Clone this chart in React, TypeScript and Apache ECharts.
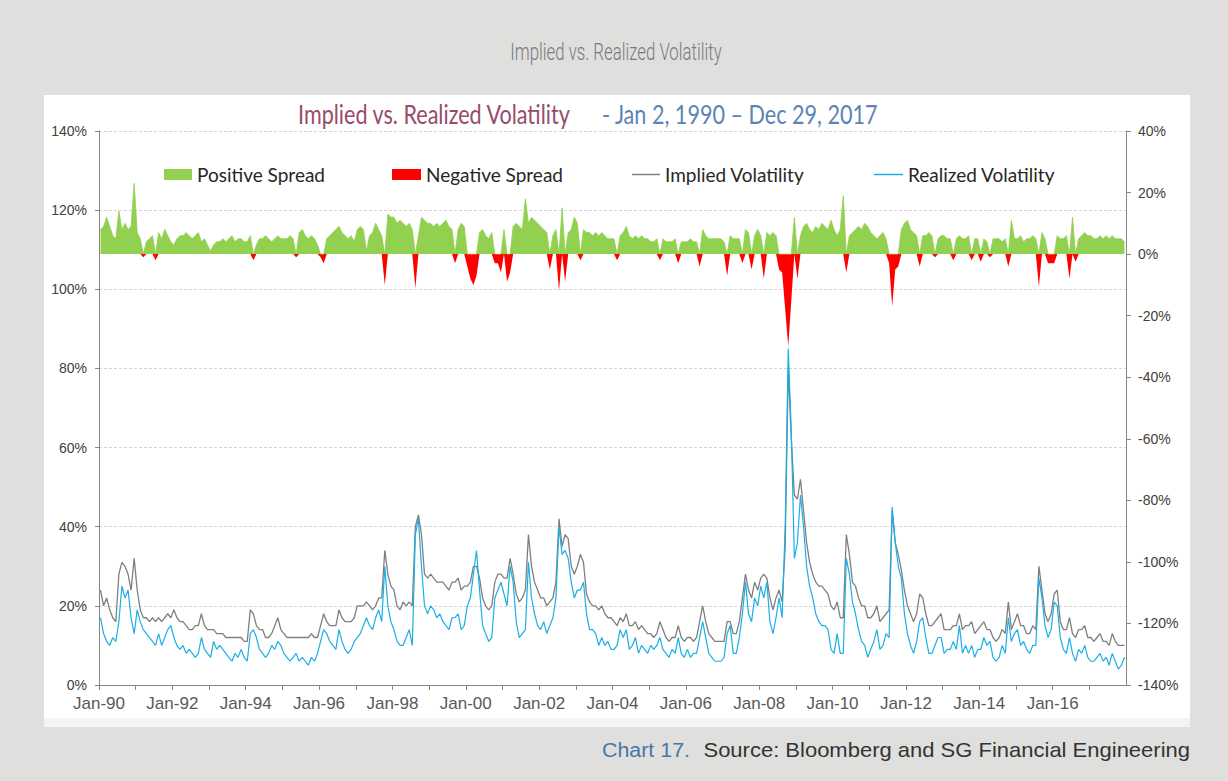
import React, { useEffect, useRef } from "react";
import * as echarts from "echarts";

// Monthly observations, Jan 1990 .. Dec 2017 (one row per year)
const START_YEAR = 1990;
const END_YEAR = 2018;

const impliedVol: number[] = [
  24, 20, 22, 19, 17, 16, 28, 31, 30, 28, 24, 32, // 1990
  24, 19, 17, 17, 16, 17, 16, 17, 16, 17, 18, 17, // 1991
  19, 17, 16, 16, 15, 14, 14, 15, 15, 18, 15, 14, // 1992
  14, 14, 13, 13, 13, 12, 12, 12, 12, 12, 12, 11, // 1993
  11, 19, 18, 15, 14, 14, 12, 12, 13, 15, 17, 14, // 1994
  13, 12, 12, 12, 12, 12, 12, 12, 12, 13, 12, 12, // 1995
  15, 18, 16, 15, 15, 15, 19, 17, 16, 16, 16, 17, // 1996
  20, 20, 20, 21, 20, 19, 20, 22, 22, 34, 28, 25, // 1997
  24, 20, 19, 21, 20, 21, 20, 40, 43, 38, 28, 27, // 1998
  28, 27, 26, 26, 26, 25, 24, 26, 26, 27, 24, 25, // 1999
  25, 26, 30, 30, 27, 22, 20, 19, 20, 26, 28, 28, // 2000
  27, 27, 32, 28, 23, 21, 22, 24, 38, 30, 26, 24, // 2001
  22, 22, 20, 21, 22, 26, 42, 35, 38, 37, 30, 28, // 2002
  30, 33, 31, 23, 21, 20, 20, 19, 20, 18, 17, 17, // 2003
  16, 15, 17, 16, 18, 15, 15, 16, 14, 15, 14, 13, // 2004
  13, 12, 13, 16, 14, 12, 11, 12, 12, 15, 12, 11, // 2005
  12, 12, 11, 12, 16, 20, 16, 13, 12, 11, 11, 11, // 2006
  11, 16, 16, 13, 13, 16, 22, 28, 24, 22, 26, 24, // 2007
  27, 28, 27, 22, 19, 22, 24, 21, 35, 80, 62, 48, // 2008
  47, 52, 44, 36, 31, 28, 26, 25, 25, 24, 23, 20, // 2009
  19, 21, 17, 17, 38, 33, 26, 25, 22, 20, 20, 17, // 2010
  17, 18, 20, 16, 17, 18, 19, 44, 36, 33, 29, 24, // 2011
  20, 18, 16, 18, 23, 22, 18, 15, 15, 16, 17, 18, // 2012
  14, 14, 14, 15, 15, 18, 14, 15, 15, 16, 13, 14, // 2013
  15, 16, 14, 14, 12, 11, 12, 14, 13, 21, 14, 16, // 2014
  18, 15, 15, 13, 13, 15, 14, 30, 24, 18, 16, 18, // 2015
  23, 24, 16, 14, 14, 17, 13, 12, 14, 14, 15, 12, // 2016
  12, 11, 12, 13, 11, 11, 10, 13, 11, 10, 10, 10, // 2017
];

const realizedVol: number[] = [
  17, 13, 11, 10, 12, 11, 16, 25, 22, 24, 17, 13, // 1990
  19, 16, 14, 13, 12, 11, 10, 13, 10, 12, 14, 15, // 1991
  12, 10, 9, 10, 8, 9, 8, 7, 8, 12, 9, 8, // 1992
  7, 11, 9, 10, 9, 8, 7, 6, 8, 7, 9, 7, // 1993
  6, 13, 14, 12, 9, 8, 7, 8, 10, 9, 11, 10, // 1994
  8, 7, 6, 7, 8, 6, 7, 6, 5, 7, 6, 8, // 1995
  11, 14, 13, 11, 10, 9, 14, 11, 9, 8, 9, 11, // 1996
  12, 13, 15, 17, 15, 14, 17, 19, 16, 30, 20, 16, // 1997
  14, 11, 10, 10, 12, 14, 10, 38, 42, 30, 20, 18, // 1998
  20, 19, 17, 18, 16, 15, 14, 17, 17, 18, 14, 15, // 1999
  20, 22, 28, 34, 24, 15, 13, 11, 12, 22, 24, 26, // 2000
  23, 20, 30, 26, 16, 12, 13, 14, 31, 22, 18, 15, // 2001
  14, 16, 13, 15, 17, 22, 40, 33, 34, 32, 26, 22, // 2002
  24, 24, 26, 18, 14, 14, 13, 10, 12, 10, 11, 9, // 2003
  9, 10, 14, 12, 14, 9, 10, 12, 8, 10, 9, 8, // 2004
  10, 9, 10, 12, 9, 8, 7, 9, 8, 12, 8, 7, // 2005
  9, 7, 8, 8, 12, 16, 12, 8, 7, 6, 6, 6, // 2006
  7, 13, 15, 8, 8, 12, 18, 26, 18, 16, 22, 20, // 2007
  25, 22, 26, 16, 13, 17, 22, 17, 40, 85, 64, 32, // 2008
  36, 48, 40, 30, 25, 22, 18, 16, 15, 15, 14, 9, // 2009
  8, 13, 8, 8, 32, 28, 21, 18, 14, 11, 10, 7, // 2010
  9, 11, 14, 9, 10, 13, 12, 45, 36, 30, 27, 18, // 2011
  13, 10, 8, 11, 16, 17, 12, 8, 8, 10, 12, 12, // 2012
  8, 9, 9, 11, 9, 15, 8, 10, 8, 10, 7, 9, // 2013
  9, 12, 10, 11, 7, 6, 7, 10, 8, 17, 11, 13, // 2014
  14, 10, 11, 9, 8, 10, 10, 27, 22, 15, 12, 14, // 2015
  21, 20, 12, 9, 8, 12, 8, 6, 9, 8, 10, 7, // 2016
  6, 6, 7, 8, 6, 7, 5, 8, 6, 4, 5, 7, // 2017
];

// Implied minus realized spread (right axis)
const volSpread: number[] = [
  8, 9, 12, 9, 6, 5, 14, 8, 10, 8, 9, 23, // 1990
  7, 5, -1, 4, 5, 6, -2, 7, 5, 8, 6, 4, // 1991
  3, 5, 6, 6, 7, 6, 5, 6, 7, 4, 5, 3, // 1992
  1, 3, 4, 4, 5, 4, 5, 6, 4, 5, 5, 4, // 1993
  4, 6, -2, 3, 5, 5, 6, 5, 4, 5, 6, 5, // 1994
  5, 5, 6, 5, -1, 7, 8, 6, 5, 6, 5, 3, // 1995
  -1, -3, 5, 6, 7, 8, 9, 7, 6, 5, 6, 4, // 1996
  8, 9, 8, 1, 6, 7, 10, 8, 6, -10, 13, 12, // 1997
  12, 10, 11, 10, 9, 10, 8, -11, 6, 12, 11, 10, // 1998
  10, 9, 10, 9, 10, 11, 9, 8, -3, 8, 10, 9, // 1999
  -4, -8, -10, -7, 7, 8, 6, 5, 7, -3, -3, -6, // 2000
  8, -9, -6, 9, 10, 9, 8, 18, 10, 12, 11, 10, // 2001
  9, 8, 7, -5, 6, 8, -12, 15, -9, 7, 8, 12, // 2002
  10, -2, 8, 7, 7, 6, 7, 6, 7, 6, 5, 5, // 2003
  5, -2, 6, 7, 9, 6, 5, 6, 5, 6, 5, 5, // 2004
  4, 4, 5, -2, 5, 4, 4, 4, 5, -3, 4, 4, // 2005
  4, 5, 4, 4, -4, 8, 6, 5, 5, 5, 5, 5, // 2006
  4, -7, 6, 5, 5, 5, -3, 8, 7, -5, 6, 8, // 2007
  6, -8, 7, 6, 7, 6, -5, -6, -18, -30, -15, 12, // 2008
  -8, 6, 9, 10, 8, 7, 9, 8, 10, 9, 8, 11, // 2009
  8, 6, 8, 19, -6, 6, 7, 8, 9, 8, 10, 9, // 2010
  7, 6, 5, 6, 7, 5, -3, -17, -5, -4, 8, 10, // 2011
  11, 8, 7, 6, -4, 6, 6, 7, 6, -1, 5, 6, // 2012
  6, 5, 5, -2, 5, 6, 5, 5, 6, -2, 5, 5, // 2013
  -2.5, 5, 4, -1, 5, 5, 5, 4, 5, -4, 11, 5, // 2014
  5, 6, 4, 5, 5, 6, 5, -10.6, 7, 5, -3, -3, // 2015
  -3, 6, 5, 5, 6, -8, 12, -2.5, 5, 6, 7, 6, // 2016
  6, 5, 5, 6, 5, 6, 5, 6, 5, 5, 5, 4, // 2017
];

const seriesNames = [
  "Positive Spread",
  "Negative Spread",
  "Implied Volatility",
  "Realized Volatility",
];

export default function App() {
  const ref = useRef<HTMLDivElement>(null);

  useEffect(() => {
    if (!ref.current) return;
    const chart = echarts.init(ref.current, null, { renderer: "svg" });
    const xOf = (i: number) => START_YEAR + (i + 0.5) / 12;
    const implied = impliedVol.map((v, i) => [xOf(i), v]);
    const realized = realizedVol.map((v, i) => [xOf(i), v]);
    const pos = volSpread.map((v, i) => [xOf(i), v > 0 ? v : 0]);
    const neg = volSpread.map((v, i) => [xOf(i), v < 0 ? v : 0]);

    const legendBase = {
      orient: "horizontal",
      top: 165,
      padding: 0,
      selectedMode: false,
      itemGap: 10,
      textStyle: { fontFamily: "Lato", fontSize: 19, color: "#262626" },
    };

    const axisLabelFont = {
      fontFamily: "Liberation Sans",
      fontSize: 14,
      color: "#404040",
    };

    chart.setOption({
      animation: false,
      backgroundColor: "#dfdfde",
      grid: { left: 99, right: 102, top: 131, bottom: 96, containLabel: false },
      legend: [
        { ...legendBase, left: 164, data: [seriesNames[0]], icon: "rect", itemWidth: 28, itemHeight: 11 },
        { ...legendBase, left: 392, data: [seriesNames[1]], icon: "rect", itemWidth: 29, itemHeight: 11 },
        { ...legendBase, left: 632, data: [seriesNames[2]], icon: "rect", itemWidth: 28, itemHeight: 1.5 },
        { ...legendBase, left: 874, data: [seriesNames[3]], icon: "rect", itemWidth: 29, itemHeight: 1.5 },
      ],
      xAxis: {
        type: "value",
        min: START_YEAR,
        max: END_YEAR,
        interval: 1,
        axisLine: { show: true, onZero: false, lineStyle: { color: "#868686", width: 1 } },
        axisTick: { show: true, length: 5, lineStyle: { color: "#868686" } },
        splitLine: { show: false },
        axisLabel: {
          margin: 10,
          fontFamily: "Liberation Sans",
          fontSize: 17,
          color: "#595959",
          showMaxLabel: false,
          formatter: (v: number) =>
            v % 2 === 0 && v < END_YEAR ? "Jan-" + String(v).slice(2) : "",
        },
      },
      yAxis: [
        {
          type: "value",
          min: 0,
          max: 140,
          interval: 20,
          position: "left",
          axisLine: { show: true, lineStyle: { color: "#868686" } },
          axisTick: { show: true, length: 4, lineStyle: { color: "#868686" } },
          axisLabel: { ...axisLabelFont, margin: 12, formatter: "{value}%" },
          splitLine: {
            show: true,
            lineStyle: { color: "#d4d4d4", type: [3, 2], width: 1 },
          },
        },
        {
          type: "value",
          min: -140,
          max: 40,
          interval: 20,
          position: "right",
          axisLine: { show: true, lineStyle: { color: "#868686" } },
          axisTick: { show: true, length: 5, lineStyle: { color: "#868686" } },
          axisLabel: { ...axisLabelFont, margin: 12, formatter: "{value}%" },
          splitLine: { show: false },
        },
      ],
      series: [
        {
          name: seriesNames[1],
          type: "line",
          yAxisIndex: 1,
          data: neg,
          color: "#FF0000",
          symbol: "none",
          showSymbol: false,
          lineStyle: { color: "#FF0000", width: 0, opacity: 0 },
          areaStyle: { color: "#FF0000", opacity: 1, origin: 0 },
        },
        {
          name: seriesNames[0],
          type: "line",
          yAxisIndex: 1,
          data: pos,
          color: "#92D050",
          symbol: "none",
          showSymbol: false,
          lineStyle: { color: "#92D050", width: 0.8 },
          areaStyle: { color: "#92D050", opacity: 1, origin: 0 },
        },
        {
          name: seriesNames[2],
          type: "line",
          yAxisIndex: 0,
          data: implied,
          color: "#7F7F7F",
          showSymbol: false,
          symbol: "none",
          lineStyle: { color: "#7F7F7F", width: 1.3 },
        },
        {
          name: seriesNames[3],
          type: "line",
          yAxisIndex: 0,
          data: realized,
          color: "#1AAFE6",
          showSymbol: false,
          symbol: "none",
          lineStyle: { color: "#1AAFE6", width: 1.2 },
        },
      ],
      graphic: [
        {
          type: "rect",
          z: -10,
          shape: { x: 44, y: 95, width: 1146, height: 623 },
          style: { fill: "#ffffff" },
        },
        {
          type: "rect",
          z: -10,
          shape: { x: 44, y: 718, width: 1146, height: 9 },
          style: { fill: "#f4f4f4" },
        },
        {
          type: "text",
          x: 616,
          y: 52,
          scaleX: 0.7,
          style: {
            text: "Implied vs. Realized Volatility",
            fontFamily: "Roboto",
            fontWeight: 300,
            fontSize: 24,
            fill: "#7a7a7a",
            align: "center",
            verticalAlign: "middle",
          },
        },
        {
          type: "text",
          x: 298,
          y: 114,
          scaleX: 0.8,
          style: {
            text: "Implied vs. Realized Volatility",
            fontFamily: "Lato",
            fontSize: 27,
            fill: "#984b6b",
            align: "left",
            verticalAlign: "middle",
          },
        },
        {
          type: "text",
          x: 602,
          y: 114,
          scaleX: 0.8,
          style: {
            text: "- Jan 2, 1990 \u2013 Dec 29, 2017",
            fontFamily: "Lato",
            fontSize: 27,
            fill: "#5b84b6",
            align: "left",
            verticalAlign: "middle",
          },
        },
        {
          type: "text",
          x: 690,
          y: 750,
          scaleX: 1.07,
          style: {
            text: "Chart 17.",
            fontFamily: "Liberation Sans",
            fontSize: 20,
            fill: "#4a76a8",
            align: "right",
            verticalAlign: "middle",
          },
        },
        {
          type: "text",
          x: 1190,
          y: 750,
          scaleX: 1.1,
          style: {
            text: "Source: Bloomberg and SG Financial Engineering",
            fontFamily: "Liberation Sans",
            fontSize: 20,
            fill: "#333333",
            align: "right",
            verticalAlign: "middle",
          },
        },
      ],
    });
    return () => chart.dispose();
  }, []);

  return (
    <div
      ref={ref}
      style={{ position: "fixed", left: 0, top: 0, width: 1228, height: 781 }}
    />
  );
}
